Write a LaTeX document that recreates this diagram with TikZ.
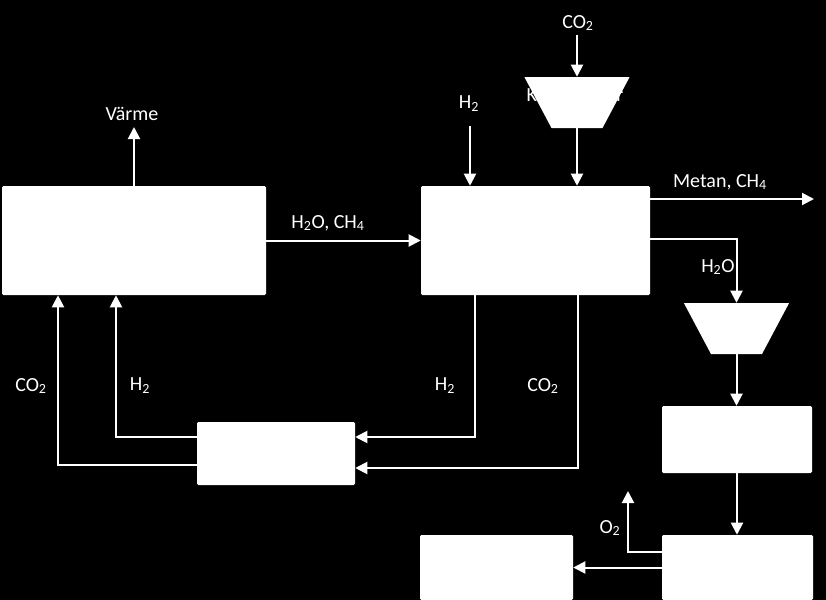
\documentclass[tikz,border=0pt]{standalone}
\usepackage{fontspec}
\setmainfont{Carlito}
\usetikzlibrary{arrows.meta,shapes.geometric}

\begin{document}
\begin{tikzpicture}[x=0.75pt,y=-0.75pt,
    font=\fontsize{15}{18}\selectfont,
    box/.style={rectangle,fill=white,inner sep=0pt,rounded corners=1pt},
    pump/.style={trapezium,fill=white,inner sep=1pt,shape border rotate=180,
                 trapezium angle=62,minimum width=73.5pt,minimum height=38.25pt},
    flow/.style={draw=white,line width=1.5pt,-{Triangle[length=9pt,width=9pt]}},
    txt/.style={text=white,inner sep=0pt}]
    % background
    \fill[black] (0,0) rectangle (826,600);
    \useasboundingbox (0,0) rectangle (826,600);

    % units
    \node[box,minimum width=198pt,minimum height=81.75pt] (reactor) at (134,240.5) {};
    \node[box,minimum width=171.75pt,minimum height=81.75pt] (sabatier) at (535.5,240.5) {};
    \node[box,minimum width=118.5pt,minimum height=47.25pt] (separator) at (276,453.5) {};
    \node[box,minimum width=112.5pt,minimum height=50.25pt] (tank) at (737,439.5) {};
    \node[box,minimum width=113.25pt,minimum height=48.75pt] (electrolys) at (737.5,567.5) {};
    \node[box,minimum width=114.75pt,minimum height=48.75pt] (storage) at (496.5,567.5) {};
    \node[txt] (komptext) at (575,97) {Kompressor};
    \node[pump] (comp) at (577,102.5) {};
    \node[pump] (pump) at (736.5,328.5) {};

    % free ends
    \coordinate (heat) at (134,127);
    \coordinate (h2in) at (470,126);
    \coordinate (co2in) at (577,35);
    \coordinate (metan) at (814,199);
    \coordinate (o2out) at (628,491);

    % labels
    \node[txt] (lheat) at (132,114) {Värme};
    \node[txt] (lmix) at (328,223) {H\textsubscript{2}O, CH\textsubscript{4}};
    \node[txt] (lh2in) at (469,104) {H\textsubscript{2}};
    \node[txt] (lco2in) at (578,23) {CO\textsubscript{2}};
    \node[txt] (lmetan) at (720,182) {Metan, CH\textsubscript{4}};
    \node[txt] (lwater) at (718,267) {H\textsubscript{2}O};
    \node[txt] (lh2b) at (445,386) {H\textsubscript{2}};
    \node[txt] (lco2b) at (543,386) {CO\textsubscript{2}};
    \node[txt] (lh2a) at (140,386) {H\textsubscript{2}};
    \node[txt] (lco2a) at (31,386) {CO\textsubscript{2}};
    \node[txt] (lo2) at (610,528) {O\textsubscript{2}};

    % flows
    \draw[flow] (reactor.north) -- (heat);
    \draw[flow] (reactor.east) -- (sabatier.west);
    \draw[flow] (h2in) -- (h2in |- sabatier.north);
    \draw[flow] (co2in) -- (co2in |- comp.north);
    \draw[flow] (comp.south) -- (comp.south |- sabatier.north);
    \draw[flow] (sabatier.east |- metan) -- (metan);
    \draw[flow] (sabatier.east |- 0,239) -| (pump.north);
    \draw[flow] (pump.south) -- (pump.south |- tank.north);
    \draw[flow] (tank.south) -- (tank.south |- electrolys.north);
    \draw[flow] (electrolys.west) -- (storage.east);
    \draw[flow] (electrolys.west |- 0,552) -| (o2out);
    \draw[flow] (sabatier.south -| 475,0) |- (separator.east |- 0,437);
    \draw[flow] (sabatier.south -| 578,0) |- (separator.east |- 0,468);
    \draw[flow] (separator.west |- 0,437) -| (reactor.south -| 116,0);
    \draw[flow] (separator.west |- 0,465) -| (reactor.south -| 58,0);
\end{tikzpicture}
\end{document}
